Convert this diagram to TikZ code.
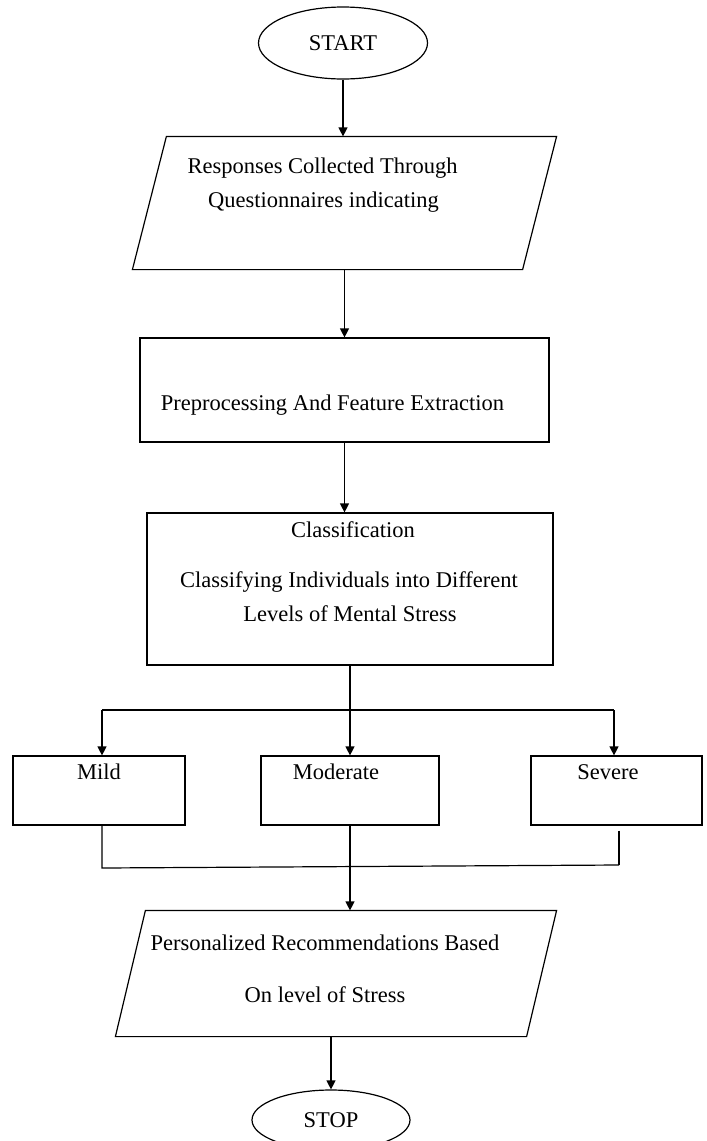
\documentclass[tikz,border=0pt]{standalone}
\usepackage{fontspec}
\setmainfont{Liberation Serif}
\usetikzlibrary{shapes.geometric,arrows.meta}
\begin{document}
\begin{tikzpicture}[x=1pt,y=-1pt,
  line width=1.2pt,
  box/.style={draw, rectangle, inner sep=0pt},
  ghost/.style={draw=none, rectangle, inner sep=0pt},
  term/.style={draw, ellipse, inner sep=0pt, font=\fontsize{22.5}{27}\selectfont},
  lbl/.style={anchor=base, inner sep=0pt, font=\fontsize{22.5}{27}\selectfont},
  arr/.style={-{Triangle[length=9pt,width=9pt]}},
]
\useasboundingbox (0,0) rectangle (707,1141);
\clip (0,0) rectangle (707,1141);

% shapes
\node[term, minimum width=169pt, minimum height=72pt] (start) at (343,43) {START};
\node[ghost, minimum width=423pt, minimum height=132pt] (p1) at (344.5,203) {};
\draw ([xshift=34pt]p1.north west) -- (p1.north east)
      -- ([xshift=-34pt]p1.south east) -- (p1.south west) -- cycle;
\node[box, minimum width=409pt, minimum height=104pt] (r2) at (344.5,390) {};
\node[box, minimum width=406pt, minimum height=152pt] (r3) at (350,589) {};
\node[box, minimum width=172pt, minimum height=69pt] (mild) at (99,790.5) {};
\node[box, minimum width=178pt, minimum height=69pt] (mod) at (350,790.5) {};
\node[box, minimum width=171pt, minimum height=69pt] (sev) at (616.5,790.5) {};
\node[ghost, minimum width=440pt, minimum height=125pt] (p2) at (336,973.5) {};
\draw ([xshift=30pt]p2.north west) -- (p2.north east)
      -- ([xshift=-30pt]p2.south east) -- (p2.south west) -- cycle;
\node[term, minimum width=158pt, minimum height=60pt] (stop) at (331,1120) {STOP};

% texts
\node[lbl] (t1a) at (322.5,173) {Responses Collected Through};
\node[lbl] (t1b) at (323.5,207) {Questionnaires indicating};
\node[lbl] (t2) at (332.5,410) {Preprocessing And Feature Extraction};
\node[lbl] (t3a) at (353,537) {Classification};
\node[lbl] (t3b) at (349,587) {Classifying Individuals into Different};
\node[lbl] (t3c) at (350,621) {Levels of Mental Stress};
\node[lbl] (tm) at (99,779) {Mild};
\node[lbl] (tmo) at (336,779) {Moderate};
\node[lbl] (ts) at (608,779) {Severe};
\node[lbl] (t4a) at (325,950) {Personalized Recommendations Based};
\node[lbl] (t4b) at (325,1002) {On level of Stress};

% connectors
\coordinate (bl) at (102,710);
\coordinate (br) at (614,710);
\coordinate (jl) at (102,868);
\coordinate (jr) at (619,865);

\draw[arr] (start.south) -- (start.south |- p1.north);
\draw[arr] (p1.south) -- (p1.south |- r2.north);
\draw[arr] (r2.south) -- (r2.south |- r3.north);
\draw[arr] (r3.south) -- (mod.north);
\draw (bl) -- (br);
\draw[arr] (bl) -- (bl |- mild.north);
\draw[arr] (br) -- (br |- sev.north);
\draw (mild.south -| jl) -- (jl) -- (jr);
\draw (sev.south -| jr) ++(0,5) -- (jr);
\draw[arr] (mod.south) -- (mod.south |- p2.north);
\draw[arr] (p2.south -| stop.north) -- (stop.north);
\end{tikzpicture}
\end{document}
